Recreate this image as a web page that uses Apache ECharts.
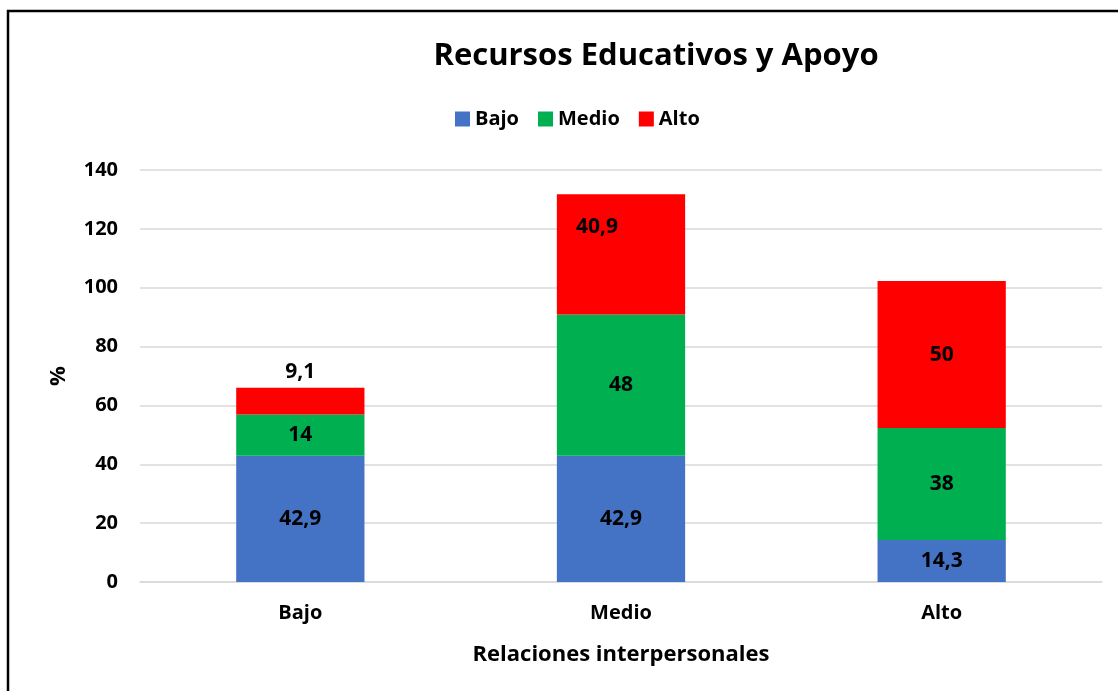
<!DOCTYPE html>
<html><head><meta charset="utf-8">
<script src="https://cdn.jsdelivr.net/npm/echarts@6/dist/echarts.min.js"></script>
<style>html,body{margin:0;padding:0;background:#fff}#c{width:1118px;height:691px}</style>
</head><body><div id="c"></div>
<script>
const categories = ['Bajo', 'Medio', 'Alto'];
const seriesNames = ['Bajo', 'Medio', 'Alto'];
const bajoValues = [42.9, 42.9, 14.3];
const medioValues = [14, 48, 38];
const altoValues = [9.1, 40.9, 50];
const colors = ['#4472C4', '#00B050', '#FF0000'];
const FONT = 'Open Sans';

const fmt = v => String(v).replace('.', ',');
const lbl = { show: true, position: 'inside', color: '#000', fontFamily: FONT, fontWeight: 'bold', fontSize: 21, formatter: p => fmt(p.value) };

const altoData = altoValues.map((v, i) => {
  if (i === 0) return { value: v, label: { position: 'top', offset: [0, 0] } };
  if (i === 1) return { value: v, label: { offset: [-24, -27] } };
  return v;
});

const chart = echarts.init(document.getElementById('c'));
chart.setOption({
  animation: false,
  backgroundColor: '#fff',
  title: { text: 'Recursos Educativos y Apoyo', left: 651, top: 36, textAlign: 'center',
    textStyle: { fontFamily: FONT, fontWeight: 'bold', fontSize: 31, color: '#000' } },
  legend: { data: seriesNames, left: 450, top: 104, itemWidth: 15, itemHeight: 15, itemGap: 19,
    icon: 'rect', textStyle: { fontFamily: FONT, fontWeight: 'bold', fontSize: 20, color: '#000' } },
  grid: { left: 140, right: 16, top: 170, bottom: 109 },
  xAxis: { type: 'category', data: categories, name: 'Relaciones interpersonales', nameLocation: 'middle', nameGap: 62,
    nameTextStyle: { fontFamily: FONT, fontWeight: 'bold', fontSize: 22, color: '#000' },
    axisLine: { lineStyle: { color: '#d9d9d9', width: 1.5 } }, axisTick: { show: false },
    axisLabel: { fontFamily: FONT, fontWeight: 'bold', fontSize: 20, color: '#000', margin: 21 } },
  yAxis: { type: 'value', min: 0, max: 140, interval: 20, name: '%', nameLocation: 'middle', nameGap: 70, nameRotate: 90,
    nameTextStyle: { fontFamily: FONT, fontWeight: 'bold', fontSize: 22, color: '#000' },
    splitLine: { lineStyle: { color: '#d9d9d9', width: 1.5 } },
    axisLabel: { fontFamily: FONT, fontWeight: 'bold', fontSize: 20, color: '#000', margin: 22 } },
  series: [
    { name: seriesNames[0], type: 'bar', stack: 's', data: bajoValues, barWidth: '40%', itemStyle: { color: colors[0] }, label: lbl },
    { name: seriesNames[1], type: 'bar', stack: 's', data: medioValues, itemStyle: { color: colors[1] }, label: lbl },
    { name: seriesNames[2], type: 'bar', stack: 's', data: altoData, itemStyle: { color: colors[2] }, label: lbl }
  ],
  graphic: [{ type: 'rect', shape: { x: 8, y: 11, width: 1300, height: 900 }, style: { fill: 'none', stroke: '#000', lineWidth: 2.5 }, silent: true }]
});
</script></body></html>
